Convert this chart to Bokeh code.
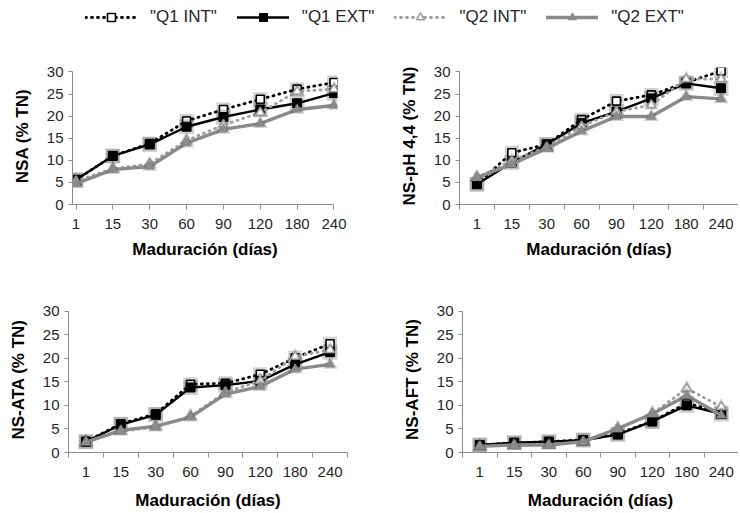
from bokeh.plotting import figure
from bokeh.layouts import column, row
from bokeh.models import FixedTicker, Legend, LegendItem, Range1d
from bokeh.embed import file_html
from bokeh.resources import INLINE

categories = ["1", "15", "30", "60", "90", "120", "180", "240"]
series_names = ['"Q1 INT"', '"Q1 EXT"', '"Q2 INT"', '"Q2 EXT"']
y_ticks = [0, 5, 10, 15, 20, 25, 30]

# NSA (% TN)
nsa_q1_int = [5.6, 11.0, 13.8, 18.9, 21.5, 23.8, 26.1, 27.6]
nsa_q1_ext = [5.6, 11.0, 13.6, 17.6, 19.8, 21.5, 22.9, 25.2]
nsa_q2_int = [5.3, 8.1, 9.2, 14.5, 18.0, 20.8, 25.6, 26.1]
nsa_q2_ext = [4.7, 7.9, 8.6, 13.9, 17.0, 18.3, 21.5, 22.4]

# NS-pH 4,4 (% TN)
ph_q1_int = [4.6, 11.7, 13.6, 19.2, 23.4, 24.8, 27.6, 30.2]
ph_q1_ext = [4.6, 9.5, 13.6, 18.4, 21.0, 24.0, 27.4, 26.3]
ph_q2_int = [6.1, 9.9, 13.0, 17.7, 21.0, 22.5, 28.4, 28.4]
ph_q2_ext = [6.1, 9.1, 12.7, 16.6, 19.9, 19.9, 24.4, 23.9]

# NS-ATA (% TN)
ata_q1_int = [2.3, 6.1, 8.2, 14.5, 14.7, 16.6, 20.1, 23.1]
ata_q1_ext = [2.3, 5.9, 8.0, 13.8, 14.3, 15.2, 18.7, 21.3]
ata_q2_int = [2.2, 4.5, 5.4, 7.7, 12.8, 15.2, 20.4, 21.8]
ata_q2_ext = [2.2, 4.7, 5.6, 7.5, 12.4, 14.0, 17.7, 18.7]

# NS-AFT (% TN)
aft_q1_int = [1.6, 2.0, 2.3, 2.7, 4.0, 6.6, 10.5, 8.5]
aft_q1_ext = [1.6, 2.1, 2.3, 2.6, 3.8, 6.6, 10.0, 8.2]
aft_q2_int = [1.3, 1.6, 1.6, 2.3, 5.0, 8.2, 13.6, 9.7]
aft_q2_ext = [1.3, 1.6, 1.6, 2.3, 5.1, 8.2, 12.1, 7.9]

STYLES = [
    dict(color="#000000", width=2.8, dash="1 5", marker="square", size=8, fill="#ffffff", mline=1.6),
    dict(color="#000000", width=2.4, dash="solid", marker="square", size=9, fill="#000000", mline=1),
    dict(color="#9e9e9e", width=2.8, dash="1 5", marker="triangle", size=9, fill="#ffffff", mline=1.6),
    dict(color="#8a8a8a", width=3.4, dash="solid", marker="triangle", size=9, fill="#8a8a8a", mline=1),
]

FONT = "Liberation Sans"
AXIS_COLOR = "#8c8c8c"
idx = list(range(len(categories)))


def draw_series(p, ys, st, shadow=True):
    lr = p.line(idx, ys, line_color=st["color"], line_width=st["width"],
                line_dash=st["dash"], line_cap="round", line_join="round")
    if shadow:
        p.scatter(idx, ys, marker=st["marker"], size=st["size"] + 6,
                  fill_color="#303030", fill_alpha=0.22, line_color=None)
    sr = p.scatter(idx, ys, marker=st["marker"], size=st["size"],
                   fill_color=st["fill"], line_color=st["color"], line_width=st["mline"])
    return lr, sr


def make_panel(series, ylabel, width, height, borders, xr, between, title_standoff=8):
    left, right, top, bottom = borders
    p = figure(width=width, height=height, output_backend="svg", toolbar_location=None,
               x_range=Range1d(*xr), y_range=Range1d(0, 31),
               min_border_left=left, min_border_right=right,
               min_border_top=top, min_border_bottom=bottom,
               outline_line_color=None, background_fill_color="white",
               border_fill_color="white")
    p.grid.visible = False
    for ys, st in zip(series, STYLES):
        draw_series(p, ys, st)

    xa = p.xaxis[0]
    if between:
        xa.ticker = FixedTicker(ticks=idx, minor_ticks=[i - 0.5 for i in idx] + [idx[-1] + 0.5])
        xa.major_tick_line_color = None
        xa.minor_tick_line_color = AXIS_COLOR
        xa.minor_tick_out = 5
        xa.minor_tick_in = 0
    else:
        xa.ticker = FixedTicker(ticks=idx)
        xa.major_tick_line_color = AXIS_COLOR
        xa.bounds = (xr[0], idx[-1])
    xa.major_tick_out = 5
    xa.major_tick_in = 0
    xa.major_label_overrides = {i: c for i, c in zip(idx, categories)}
    xa.major_label_standoff = 9
    xa.axis_label = "Maduración (días)"
    xa.axis_label_standoff = title_standoff

    ya = p.yaxis[0]
    ya.ticker = FixedTicker(ticks=y_ticks)
    ya.bounds = (0, 30)
    ya.major_tick_out = 4
    ya.major_tick_in = 0
    ya.minor_tick_line_color = None
    ya.major_tick_line_color = AXIS_COLOR
    ya.major_label_standoff = 5
    ya.axis_label = ylabel
    ya.axis_label_standoff = 12

    for ax in (xa, ya):
        ax.axis_line_color = AXIS_COLOR
        ax.axis_line_width = 1
        ax.major_label_text_font = FONT
        ax.major_label_text_font_size = "15px"
        ax.major_label_text_color = "#262626"
        ax.axis_label_text_font = FONT
        ax.axis_label_text_font_size = "17px"
        ax.axis_label_text_font_style = "bold"
        ax.axis_label_text_color = "#000000"
    return p


pad = 3.5 / 36.79
tl = make_panel([nsa_q1_int, nsa_q1_ext, nsa_q2_int, nsa_q2_ext], "NSA (% TN)",
                370, 232, (72, 33, 35, 60), (-pad, 7 + pad), False)
tr = make_panel([ph_q1_int, ph_q1_ext, ph_q2_int, ph_q2_ext], "NS-pH 4,4 (% TN)",
                368, 232, (89, 0, 35, 60), (-0.5, 7.5), True)
bl = make_panel([ata_q1_int, ata_q1_ext, ata_q2_int, ata_q2_ext], "NS-ATA (% TN)",
                370, 248, (68, 23, 42, 58), (-0.5, 7.5), True, title_standoff=11)
br = make_panel([aft_q1_int, aft_q1_ext, aft_q2_int, aft_q2_ext], "NS-AFT (% TN)",
                368, 248, (92, 0, 42, 58), (-0.5, 7.5), True, title_standoff=11)

# Legend strip
lf = figure(width=738, height=32, output_backend="svg", toolbar_location=None,
            x_range=Range1d(0, 1), y_range=Range1d(0, 1),
            x_axis_location=None, y_axis_location=None,
            min_border=0, outline_line_color=None)
lf.grid.visible = False
items = []
for name, ys, st in zip(series_names, [nsa_q1_int, nsa_q1_ext, nsa_q2_int, nsa_q2_ext], STYLES):
    lr, sr = draw_series(lf, ys, st, shadow=False)
    lr.visible = False
    sr.visible = False
    items.append(LegendItem(label=name, renderers=[lr, sr]))
legend = Legend(items=items, orientation="horizontal", location=(85, 5),
                glyph_width=52, glyph_height=20, label_height=20, label_standoff=13,
                spacing=20, padding=0, margin=0, border_line_color=None,
                background_fill_alpha=0, label_text_font=FONT,
                label_text_font_size="17px", label_text_color="#262626")
lf.add_layout(legend)

layout = column(lf, row(tl, tr), row(bl, br))
open("out.html", "w").write(file_html(layout, INLINE))
